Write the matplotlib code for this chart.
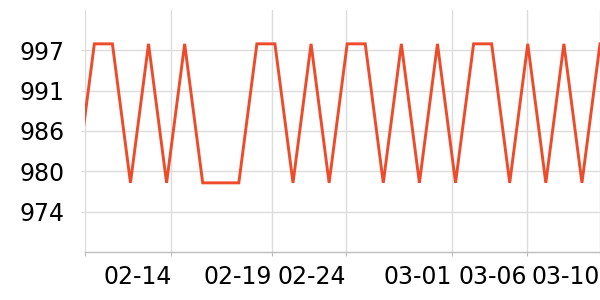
import matplotlib
matplotlib.use("Agg")
import matplotlib.pyplot as plt

# data (category index positions)
values = [978.4, 997.7, 997.7, 978.4, 997.7, 978.4, 997.7, 978.4, 978.4, 978.4,
          997.7, 997.7, 978.4, 997.7, 978.4, 997.7, 997.7, 978.4, 997.7, 978.4,
          997.7, 978.4, 997.7, 997.7, 978.4, 997.7, 978.4, 997.7, 978.4, 997.7]
x_index = list(range(-1, len(values) - 1))

xtick_pos = [-0.49, 4.27, 9.81, 13.94, 19.78, 23.98, 28.0]
xtick_labels = ["", "02-14", "02-19", "02-24", "03-01", "03-06", "03-10"]
ytick_pos = [974.4, 980.0, 985.6, 991.2, 996.8]
ytick_labels = ["974", "980", "986", "991", "997"]

fig = plt.figure(figsize=(6, 3), dpi=100)
ax = fig.add_axes([85.5 / 600, 48 / 300, 1 - 85.5 / 600, 242 / 300])

ax.plot(x_index, values, color="#EE4B2B", linewidth=2.1, solid_joinstyle="miter", zorder=3)

ax.set_xlim(-0.49, 28.0)
ax.set_ylim(968.8, 1002.4)

ax.set_yticks(ytick_pos)
ax.set_yticklabels(ytick_labels)
ax.set_xticks(xtick_pos)
ax.set_xticklabels(xtick_labels, ha="right")

grid_c = "#dcdcdc"
ax.grid(True, color=grid_c, linewidth=1.0)
for s in ["top", "right", "left"]:
    ax.spines[s].set_visible(False)
ax.spines["bottom"].set_color("#bdbdbd")
ax.spines["bottom"].set_linewidth(1.0)

ax.tick_params(axis="y", length=3, color=grid_c, pad=12, labelsize=17, labelcolor="black")
ax.tick_params(axis="x", length=3, color="#bdbdbd", pad=6, labelsize=17, labelcolor="black")

fig.savefig("out.png", dpi=100)
